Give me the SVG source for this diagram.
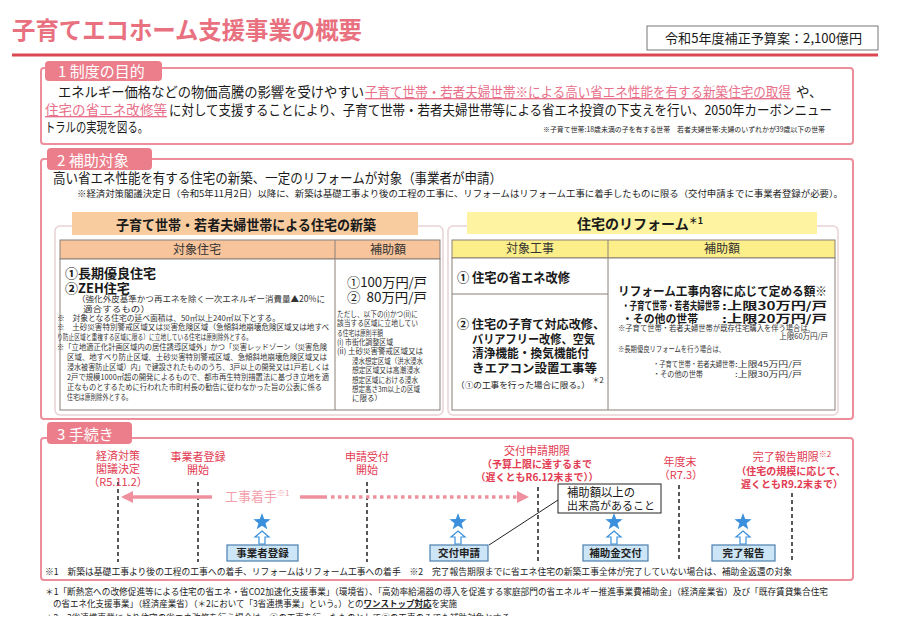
<svg xmlns="http://www.w3.org/2000/svg" width="900" height="637" viewBox="0 0 900 637">
<defs>
<style>
text{font-family:"Noto Sans CJK JP","Noto Sans CJK SC",sans-serif;fill:#1a1a1a}
.panel{fill:none;stroke:#ec8e9b;stroke-width:2}
.tab{fill:#ec7e8c}
.tabt{fill:#fff;font-size:15px}
.body{font-size:13.5px}
.pk{fill:#e8708a;text-decoration:underline}
.sm{font-size:7.5px;fill:#333}
.cell{stroke:#8c8078;stroke-width:1}
.outer{fill:#fff;stroke:#e8d2d5;stroke-width:1.5}
.th{font-size:12px;text-anchor:middle;fill:#333}
.bb{font-weight:bold;font-size:13px}
.bc{font-weight:bold;font-size:12px}
.tl{fill:#e23b52;font-size:11px;text-anchor:middle}
.tlb{fill:#e23b52;font-size:10px;font-weight:bold;text-anchor:middle}
.dash{stroke:#222;stroke-width:1.5;stroke-dasharray:4 3;fill:none}
.box{fill:#cde6f7;stroke:#4a7fae;stroke-width:1.2}
.boxt{font-size:10.5px;text-anchor:middle;font-weight:bold;fill:#222}
.star{fill:#3a90dc}
.up{fill:#fff;stroke:#3a90dc;stroke-width:1.2}
.fn{font-size:8.6px;fill:#222}
.arr{stroke:#f0909f;stroke-width:3.5;fill:none}
.rs{font-size:7.5px;fill:#333}
.rb{font-size:11px;font-weight:bold}
</style>
<path id="star" d="M0,-9 L2.17,-2.99 L8.56,-2.78 L3.52,1.14 L5.29,7.28 L0,3.7 L-5.29,7.28 L-3.52,1.14 L-8.56,-2.78 L-2.17,-2.99 Z"/>
<path id="up" d="M0,0 L7,6 L3,6 L3,13 L-3,13 L-3,6 L-7,6 Z"/>
<marker id="ah" markerUnits="userSpaceOnUse" markerWidth="12" markerHeight="12" refX="9" refY="6" orient="auto">
<path d="M0,0 L12,6 L0,12 Z" fill="#f0909f"/>
</marker>
<clipPath id="clipB"><rect x="0" y="0" width="900" height="616"/></clipPath>
</defs>
<rect width="900" height="637" fill="#fff"/>

<g id="title">
<text x="12" y="39" font-size="24" font-weight="bold" style="fill:#e8707f" textLength="350" lengthAdjust="spacingAndGlyphs">子育てエコホーム支援事業の概要</text>
<line x1="12" y1="55" x2="878" y2="55" stroke="#dc4852" stroke-width="3"/>
</g>

<g id="budget">
<rect x="647" y="26" width="231" height="24" fill="#fff" stroke="#777" stroke-width="1"/>
<text x="665" y="43" font-size="13" textLength="197" lengthAdjust="spacingAndGlyphs">令和5年度補正予算案：2,100億円</text>
</g>

<g id="sec1">
<rect class="panel" x="41" y="68" width="812" height="76" rx="3"/>
<rect class="tab" x="45" y="61" width="117" height="20" rx="4"/>
<text class="tabt" x="58" y="77">1 制度の目的</text>
<text class="body" x="58" y="97" textLength="306" lengthAdjust="spacingAndGlyphs">エネルギー価格などの物価高騰の影響を受けやすい</text>
<text class="body pk" transform="translate(365,97) scale(0.93,1)">子育て世帯・若者夫婦世帯※による高い省エネ性能を有する新築住宅の取得</text>
<text class="body" x="796" y="97">や、</text>
<text class="body pk" x="45" y="115" textLength="122" lengthAdjust="spacingAndGlyphs">住宅の省エネ改修等</text>
<text class="body" x="169" y="115" font-size="12.8" textLength="663" lengthAdjust="spacingAndGlyphs">に対して支援することにより、子育て世帯・若者夫婦世帯等による省エネ投資の下支えを行い、2050年カーボンニュー</text>
<text class="body" x="45" y="132" textLength="103" lengthAdjust="spacingAndGlyphs">トラルの実現を図る。</text>
<text x="543" y="132" font-size="7" textLength="282" lengthAdjust="spacingAndGlyphs">※子育て世帯:18歳未満の子を有する世帯　若者夫婦世帯:夫婦のいずれかが39歳以下の世帯</text>
</g>

<g id="sec2">
<rect class="panel" x="41" y="159" width="812" height="260" rx="3"/>
<rect class="tab" x="47" y="148" width="105" height="22" rx="4"/>
<text class="tabt" x="57" y="166">2 補助対象</text>
<text x="53" y="183" font-size="13.5" textLength="449" lengthAdjust="spacingAndGlyphs">高い省エネ性能を有する住宅の新築、一定のリフォームが対象（事業者が申請）</text>
<text x="77" y="197" font-size="9" textLength="766" lengthAdjust="spacingAndGlyphs">※経済対策閣議決定日（令和5年11月2日）以降に、新築は基礎工事より後の工程の工事に、リフォームはリフォーム工事に着手したものに限る（交付申請までに事業者登録が必要）。</text>
</g>

<g id="sec2-new">
<rect class="outer" x="55" y="226" width="388" height="189" rx="5"/>
<rect x="72" y="212" width="346" height="23" fill="#f8cc9e"/>
<text x="246" y="230" font-size="14" font-weight="bold" text-anchor="middle" textLength="260" lengthAdjust="spacingAndGlyphs">子育て世帯・若者夫婦世帯による住宅の新築</text>
<rect x="60" y="240" width="380" height="19" fill="#f7c49c" class="cell"/>
<rect x="60" y="259" width="380" height="151" fill="#fff" class="cell"/>
<line class="cell" x1="335" y1="240" x2="335" y2="410"/>
<text class="th" x="197" y="254">対象住宅</text>
<text class="th" x="388" y="254">補助額</text>
<text class="bb" x="65" y="278">①長期優良住宅</text>
<text class="bb" x="65" y="293">②ZEH住宅</text>
<text x="77" y="302" font-size="8.5" textLength="248" lengthAdjust="spacingAndGlyphs" style="fill:#333">（強化外皮基準かつ再エネを除く一次エネルギー消費量▲20%に</text>
<text x="83" y="312" font-size="8.5" textLength="67" lengthAdjust="spacingAndGlyphs" style="fill:#333">適合するもの）</text>
<text class="sm" x="57" y="321" textLength="223" lengthAdjust="spacingAndGlyphs">※　対象となる住宅の延べ面積は、50㎡以上240㎡以下とする。</text>
<text class="sm" x="57" y="330" textLength="272" lengthAdjust="spacingAndGlyphs">※　土砂災害特別警戒区域又は災害危険区域（急傾斜地崩壊危険区域又は地すべ</text>
<text class="sm" x="57" y="340" textLength="195" lengthAdjust="spacingAndGlyphs">り防止区域と重複する区域に限る）に立地している住宅は原則除外とする。</text>
<text class="sm" x="57" y="350" textLength="270" lengthAdjust="spacingAndGlyphs">※「立地適正化計画区域内の居住誘導区域外」かつ「災害レッドゾーン（災害危険</text>
<text class="sm" x="67" y="360" textLength="260" lengthAdjust="spacingAndGlyphs">区域、地すべり防止区域、土砂災害特別警戒区域、急傾斜地崩壊危険区域又は</text>
<text class="sm" x="67" y="370" font-size="7.2" textLength="262" lengthAdjust="spacingAndGlyphs">浸水被害防止区域）内」で建設されたもののうち、3戸以上の開発又は1戸若しくは</text>
<text class="sm" x="67" y="380" font-size="7.2" textLength="262" lengthAdjust="spacingAndGlyphs">2戸で規模1000㎡超の開発によるもので、都市再生特別措置法に基づき立地を適</text>
<text class="sm" x="67" y="390" font-size="7.3" textLength="255" lengthAdjust="spacingAndGlyphs">正なものとするために行われた市町村長の勧告に従わなかった旨の公表に係る</text>
<text class="sm" x="67" y="400" textLength="65" lengthAdjust="spacingAndGlyphs">住宅は原則除外とする。</text>
<text x="347" y="287" font-size="13" textLength="80" lengthAdjust="spacingAndGlyphs">①100万円/戸</text>
<text x="347" y="302" font-size="13" textLength="80" lengthAdjust="spacingAndGlyphs">②&#160;&#160;80万円/戸</text>
<text class="sm" x="337" y="317" textLength="81" lengthAdjust="spacingAndGlyphs">ただし、以下の(i)かつ(ii)に</text>
<text class="sm" x="337" y="326" textLength="81" lengthAdjust="spacingAndGlyphs">該当する区域に立地してい</text>
<text class="sm" x="337" y="336" textLength="46" lengthAdjust="spacingAndGlyphs">る住宅は原則半額</text>
<text class="sm" x="337" y="345" textLength="56" lengthAdjust="spacingAndGlyphs">(i) 市街化調整区域</text>
<text class="sm" x="337" y="354" textLength="86" lengthAdjust="spacingAndGlyphs">(ii) 土砂災害警戒区域又は</text>
<text class="sm" x="352" y="364" textLength="71" lengthAdjust="spacingAndGlyphs">浸水想定区域（洪水浸水</text>
<text class="sm" x="352" y="373" textLength="68" lengthAdjust="spacingAndGlyphs">想定区域又は高潮浸水</text>
<text class="sm" x="352" y="383" textLength="66" lengthAdjust="spacingAndGlyphs">想定区域における浸水</text>
<text class="sm" x="352" y="392" textLength="68" lengthAdjust="spacingAndGlyphs">想定高さ3m以上の区域</text>
<text class="sm" x="352" y="401" textLength="30" lengthAdjust="spacingAndGlyphs">に限る）</text>
</g>

<g id="sec2-reform">
<rect class="outer" x="448" y="226" width="390" height="189" rx="5"/>
<rect x="467" y="212" width="350" height="22" fill="#fdf3a0"/>
<text x="640" y="229" font-size="14" font-weight="bold" text-anchor="middle">住宅のリフォーム<tspan font-size="9" dy="-5">＊1</tspan></text>
<rect x="452" y="240" width="383" height="18" fill="#fcee88" class="cell"/>
<rect x="452" y="258" width="383" height="152" fill="#fff" class="cell"/>
<line class="cell" x1="608" y1="240" x2="608" y2="410"/>
<line class="cell" x1="452" y1="294" x2="608" y2="294"/>
<text class="th" x="530" y="253">対象工事</text>
<text class="th" x="722" y="253">補助額</text>
<text class="bb" x="457" y="282" textLength="113" lengthAdjust="spacingAndGlyphs">① 住宅の省エネ改修</text>
<text class="bc" x="457" y="329" textLength="148" lengthAdjust="spacingAndGlyphs">② 住宅の子育て対応改修、</text>
<text class="bc" x="472" y="343.5" textLength="123" lengthAdjust="spacingAndGlyphs">バリアフリー改修、空気</text>
<text class="bc" x="472" y="358" textLength="117" lengthAdjust="spacingAndGlyphs">清浄機能・換気機能付</text>
<text class="bc" x="472" y="372.5" textLength="125" lengthAdjust="spacingAndGlyphs">きエアコン設置工事等</text>
<text x="456" y="387.5" font-size="8.5" textLength="134" lengthAdjust="spacingAndGlyphs">（①の工事を行った場合に限る。）</text>
<text x="592" y="383" font-size="7.5">＊2</text>
<text x="618" y="296" font-size="12" font-weight="bold" textLength="209" lengthAdjust="spacingAndGlyphs">リフォーム工事内容に応じて定める額※</text>
<text class="rb" transform="translate(622,309.5) scale(0.685,1)">・子育て世帯・若者夫婦世帯</text>
<text class="rb" x="722" y="309.5" textLength="105" lengthAdjust="spacingAndGlyphs">:上限30万円/戸</text>
<text class="rb" x="622" y="322.5" textLength="76" lengthAdjust="spacingAndGlyphs">・その他の世帯</text>
<text class="rb" x="722" y="322.5" textLength="105" lengthAdjust="spacingAndGlyphs">:上限20万円/戸</text>
<text class="rs" x="618" y="331" font-size="7.2" textLength="197" lengthAdjust="spacingAndGlyphs">※子育て世帯・若者夫婦世帯が既存住宅購入を伴う場合は、</text>
<text class="rs" x="828" y="339" text-anchor="end">上限60万円/戸</text>
<text class="rs" x="618" y="352" textLength="107" lengthAdjust="spacingAndGlyphs">※長期優良リフォームを行う場合は、</text>
<text class="rs" transform="translate(653,367) scale(0.84,1)">・子育て世帯・若者夫婦世帯</text>
<text class="rs" x="735" y="367" textLength="67" lengthAdjust="spacingAndGlyphs">:上限45万円/戸</text>
<text class="rs" x="653" y="377" textLength="50" lengthAdjust="spacingAndGlyphs">・その他の世帯</text>
<text class="rs" x="735" y="377" textLength="67" lengthAdjust="spacingAndGlyphs">:上限30万円/戸</text>
</g>

<g id="sec3">
<rect class="panel" x="41" y="438" width="812" height="142" rx="3"/>
<rect class="tab" x="47" y="422" width="85" height="22" rx="4"/>
<text class="tabt" x="57" y="440">3 手続き</text>
<text class="fn" x="45" y="575" textLength="747" lengthAdjust="spacingAndGlyphs">※1　新築は基礎工事より後の工程の工事への着手、リフォームはリフォーム工事への着手　※2　完了報告期限までに省エネ住宅の新築工事全体が完了していない場合は、補助金返還の対象</text>
</g>

<g id="connectors">
<line class="dash" x1="118" y1="482" x2="118" y2="562"/>
<line class="dash" x1="198" y1="482" x2="198" y2="562"/>
<line class="dash" x1="367" y1="482" x2="367" y2="562"/>
<line class="dash" x1="538" y1="487" x2="538" y2="562"/>
<line class="dash" x1="679" y1="485" x2="679" y2="562"/>
<line class="dash" x1="792" y1="493" x2="792" y2="562"/>
<line class="arr" x1="212" y1="497" x2="124" y2="497" marker-end="url(#ah)"/>
<line class="arr" x1="300" y1="497" x2="327" y2="497"/>
<line class="arr" x1="331" y1="497" x2="526" y2="497" stroke-dasharray="3.5 3.5" marker-end="url(#ah)"/>
<line x1="558" y1="500" x2="489" y2="545" stroke="#222" stroke-width="1"/>
</g>

<g id="label-keizai">
<text class="tl" x="118" y="460">経済対策</text>
<text class="tl" x="118" y="473">閣議決定</text>
<text class="tl" x="118" y="486" font-size="10">（R5.11.2）</text>
</g>
<g id="label-touroku">
<text class="tl" x="198" y="461">事業者登録</text>
<text class="tl" x="198" y="474">開始</text>
</g>
<g id="label-uketsuke">
<text class="tl" x="367" y="461">申請受付</text>
<text class="tl" x="367" y="474">開始</text>
</g>
<g id="label-kigen">
<text class="tl" x="537" y="455">交付申請期限</text>
<text class="tlb" x="537" y="468">（予算上限に達するまで</text>
<text class="tlb" x="537" y="481">（遅くともR6.12末まで））</text>
</g>
<g id="label-nendomatsu">
<text class="tl" x="680" y="466">年度末</text>
<text class="tl" x="681" y="479" font-size="10">（R7.3）</text>
</g>
<g id="label-kanryo">
<text class="tl" x="792" y="461">完了報告期限<tspan font-size="8" dy="-4">※2</tspan></text>
<text class="tlb" x="791" y="475">（住宅の規模に応じて、</text>
<text class="tlb" x="792" y="488">遅くともR9.2末まで）</text>
</g>
<g id="label-chakushu">
<text x="225" y="501" font-size="13" style="fill:#f4a0ac">工事着手<tspan font-size="8" dy="-5">※1</tspan></text>
</g>

<g id="node-touroku">
<use href="#star" class="star" x="262" y="522"/>
<use href="#up" class="up" x="262" y="531"/>
<rect class="box" x="227" y="545" width="71" height="16"/>
<text class="boxt" x="262.5" y="557">事業者登録</text>
</g>
<g id="node-shinsei">
<use href="#star" class="star" x="458" y="522"/>
<use href="#up" class="up" x="458" y="531"/>
<rect class="box" x="430" y="545" width="58" height="16"/>
<text class="boxt" x="459" y="557">交付申請</text>
</g>
<g id="node-kofu">
<use href="#star" class="star" x="614" y="522"/>
<use href="#up" class="up" x="614" y="531"/>
<rect class="box" x="583" y="545" width="65" height="16"/>
<text class="boxt" x="615.5" y="557">補助金交付</text>
</g>
<g id="node-hokoku">
<use href="#star" class="star" x="743" y="522"/>
<use href="#up" class="up" x="743" y="531"/>
<rect class="box" x="712" y="545" width="63" height="16"/>
<text class="boxt" x="743.5" y="557">完了報告</text>
</g>
<g id="callout">
<rect x="558" y="484" width="103" height="29" fill="#fff" stroke="#222" stroke-width="1"/>
<text x="567" y="497" font-size="12" textLength="68" lengthAdjust="spacingAndGlyphs">補助額以上の</text>
<text x="567" y="510" font-size="11" textLength="88" lengthAdjust="spacingAndGlyphs">出来高があること</text>
</g>

<g id="footnotes">
<text class="fn" x="45" y="595" font-size="8.5" textLength="783" lengthAdjust="spacingAndGlyphs">＊1「断熱窓への改修促進等による住宅の省エネ・省CO2加速化支援事業」（環境省）、「高効率給湯器の導入を促進する家庭部門の省エネルギー推進事業費補助金」（経済産業省）及び「既存賃貸集合住宅</text>
<text class="fn" x="53" y="607" font-size="8.3" textLength="404" lengthAdjust="spacingAndGlyphs">の省エネ化支援事業」（経済産業省）（＊2において「3省連携事業」という。）との<tspan text-decoration="underline" font-weight="bold">ワンストップ対応</tspan>を実施</text>
<text class="fn" x="45" y="621" font-size="8.5" clip-path="url(#clipB)" textLength="465" lengthAdjust="spacingAndGlyphs">＊2　3省連携事業により住宅の省エネ改修を行う場合は、①の工事を行ったものとして②の工事のみでも補助対象とする</text>
</g>
</svg>
